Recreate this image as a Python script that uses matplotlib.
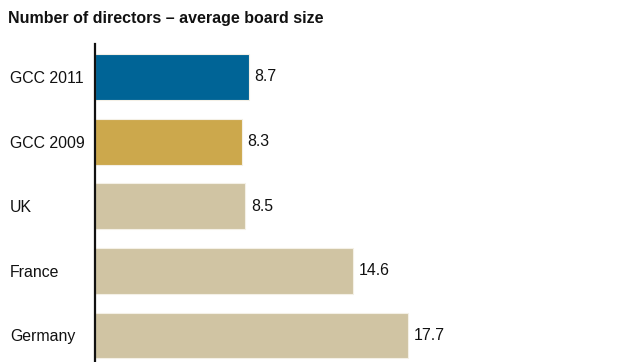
import matplotlib
matplotlib.use("Agg")
import matplotlib.pyplot as plt

plt.rcParams["font.family"] = ["Liberation Sans", "DejaVu Sans"]

categories = ["GCC 2011", "GCC 2009", "UK", "France", "Germany"]
board_size = [8.7, 8.3, 8.5, 14.6, 17.7]
bar_colors = ["#006496", "#cca84c", "#d0c4a3", "#d0c4a3", "#d0c4a3"]

W, H = 629, 362
fig = plt.figure(figsize=(W / 100, H / 100), dpi=100)
ax = fig.add_axes([95 / W, 0, (620 - 95) / W, 318 / H])

pos = list(range(len(categories)))
ax.barh(pos, board_size, height=0.71, color=bar_colors,
        edgecolor="#f4f0e6", linewidth=0.8, zorder=2)

for y, v in zip(pos, board_size):
    ax.text(v + 0.3, y, f"{v}", va="center", ha="left", fontsize=11.4, color="#111111")

ax.set_xlim(0, (620 - 95) / 17.7)
ax.set_ylim(4.41, -0.51)
ax.set_yticks(pos)
ax.set_yticklabels(categories, fontsize=11.4, color="#111111")
for lab in ax.get_yticklabels():
    lab.set_horizontalalignment("left")
    lab.set_x(-85 / (620 - 95))
ax.tick_params(axis="y", length=0, pad=0)
ax.set_xticks([])
for s in ["top", "right", "bottom"]:
    ax.spines[s].set_visible(False)
ax.spines["left"].set_linewidth(1.6)
ax.spines["left"].set_color("#111111")

fig.text(8 / W, 1 - 18 / H, "Number of directors – average board size",
         fontsize=11.5, fontweight="bold", va="center", ha="left", color="#111111")

fig.savefig("out.png", dpi=100)
